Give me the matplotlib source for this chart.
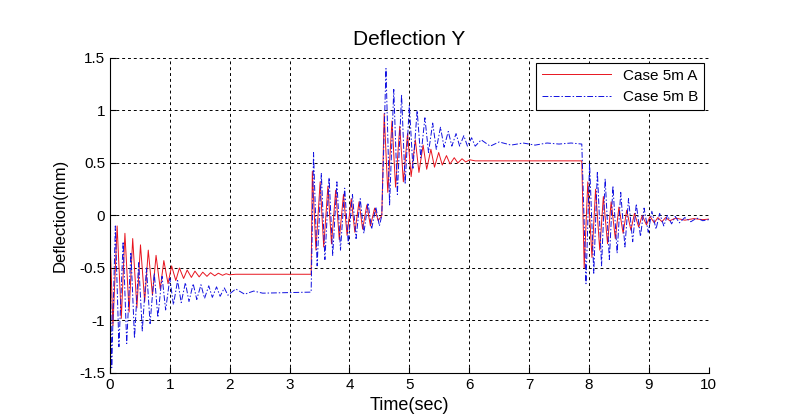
import numpy as np
import matplotlib
matplotlib.use('Agg')
import matplotlib.pyplot as plt

plt.rcParams['font.family'] = ['Liberation Sans', 'DejaVu Sans']

# Extremos (tiempo en s, deflexion en mm)
t_a = [0.0, 0.05, 0.12, 0.19, 0.25, 0.32, 0.38, 0.45, 0.51, 0.58, 0.64, 0.71, 0.77, 0.84, 0.9, 0.97,
       1.03, 1.1, 1.16, 1.23, 1.29, 1.36, 1.42, 1.49, 1.55, 1.62, 1.68, 1.75, 1.81, 1.88, 1.94, 2.0,
       2.1, 3.36,
       3.38, 3.44, 3.51, 3.57, 3.64, 3.7, 3.77, 3.83, 3.9, 3.96, 4.03, 4.09, 4.16, 4.22, 4.29, 4.35,
       4.42, 4.48, 4.54,
       4.58, 4.64, 4.71, 4.77, 4.84, 4.9, 4.97, 5.03, 5.1, 5.16, 5.23, 5.29, 5.36, 5.42, 5.49, 5.55,
       5.62, 5.68, 5.75, 5.81, 5.88, 5.94, 6.01, 6.1, 7.88,
       7.92, 7.98, 8.05, 8.11, 8.18, 8.24, 8.31, 8.37, 8.44, 8.5, 8.57, 8.63, 8.7, 8.76, 8.83, 8.89,
       8.96, 9.02, 9.09, 9.15, 9.22, 9.28, 9.35, 9.45, 9.6, 9.75, 9.9, 10.0]
y_a = [-0.2, -1.05, -0.1, -0.98, -0.17, -0.92, -0.22, -0.88, -0.28, -0.82, -0.33, -0.76, -0.38, -0.7,
       -0.43, -0.65, -0.48, -0.62, -0.5, -0.6, -0.52, -0.59, -0.53, -0.585, -0.54, -0.58, -0.545,
       -0.575, -0.55, -0.57, -0.555, -0.565, -0.56, -0.56,
       0.42, -0.33, 0.32, -0.3, 0.28, -0.27, 0.24, -0.23, 0.2, -0.19, 0.16, -0.16, 0.13, -0.13, 0.1,
       -0.1, 0.07, -0.05, 0.0,
       0.97, 0.22, 0.9, 0.27, 0.85, 0.32, 0.78, 0.37, 0.72, 0.41, 0.67, 0.44, 0.63, 0.46, 0.6, 0.48,
       0.57, 0.49, 0.55, 0.5, 0.54, 0.51, 0.53, 0.52, 0.52,
       -0.5, 0.32, -0.4, 0.25, -0.33, 0.18, -0.27, 0.13, -0.22, 0.08, -0.17, 0.05, -0.14, 0.02, -0.11,
       0.0, -0.09, -0.01, -0.07, -0.02, -0.06, -0.02, -0.05, -0.025, -0.045, -0.03, -0.04, -0.035]

t_b = [0.0, 0.03, 0.09, 0.15, 0.22, 0.28, 0.35, 0.41, 0.48, 0.54, 0.61, 0.67, 0.74, 0.8, 0.87, 0.93,
       1.0, 1.06, 1.13, 1.19, 1.26, 1.32, 1.39, 1.45, 1.52, 1.58, 1.65, 1.71, 1.78, 1.84, 1.91, 1.97,
       2.1, 2.25, 2.4, 2.55, 3.36,
       3.4, 3.46, 3.53, 3.59, 3.66, 3.72, 3.79, 3.85, 3.92, 3.98, 4.05, 4.11, 4.18, 4.24, 4.31, 4.37,
       4.44, 4.5, 4.54,
       4.61, 4.67, 4.74, 4.8, 4.87, 4.93, 5.0, 5.06, 5.13, 5.19, 5.26, 5.32, 5.39, 5.45, 5.52, 5.58,
       5.65, 5.71, 5.78, 5.84, 5.91, 5.97, 6.04, 6.1, 6.2, 6.35, 6.5, 6.7, 6.9, 7.1, 7.3, 7.5, 7.7,
       7.88,
       7.95, 8.01, 8.08, 8.14, 8.21, 8.27, 8.34, 8.4, 8.47, 8.53, 8.6, 8.66, 8.73, 8.79, 8.86, 8.92,
       8.99, 9.05, 9.12, 9.18, 9.25, 9.31, 9.38, 9.44, 9.51, 9.6, 9.7, 9.8, 9.9, 10.0]
y_b = [-0.2, -1.45, -0.1, -1.25, -0.25, -1.22, -0.35, -1.17, -0.45, -1.1, -0.5, -1.03, -0.55, -0.97,
       -0.58, -0.9, -0.6, -0.85, -0.62, -0.83, -0.64, -0.82, -0.65, -0.8, -0.66, -0.79, -0.67, -0.78,
       -0.68, -0.77, -0.69, -0.76, -0.7, -0.75, -0.72, -0.74, -0.73,
       0.6, -0.48, 0.4, -0.42, 0.36, -0.38, 0.32, -0.33, 0.26, -0.27, 0.2, -0.22, 0.16, -0.17, 0.12,
       -0.13, 0.08, -0.1, 0.0,
       1.4, 0.1, 1.2, 0.2, 1.15, 0.3, 1.05, 0.45, 1.0, 0.55, 0.93, 0.6, 0.88, 0.63, 0.84, 0.65, 0.8,
       0.66, 0.78, 0.66, 0.76, 0.66, 0.74, 0.66, 0.72, 0.66, 0.7, 0.67, 0.69, 0.67, 0.69, 0.68, 0.69,
       0.68,
       -0.65, 0.5, -0.55, 0.42, -0.48, 0.35, -0.42, 0.28, -0.36, 0.22, -0.3, 0.16, -0.25, 0.11, -0.2,
       0.07, -0.16, 0.04, -0.13, 0.02, -0.1, 0.0, -0.08, -0.01, -0.07, -0.02, -0.06, -0.025, -0.05,
       -0.04]

x_ticks = [0, 1, 2, 3, 4, 5, 6, 7, 8, 9, 10]
y_ticks = [-1.5, -1, -0.5, 0, 0.5, 1, 1.5]
y_labels = ['-1.5', '-1', '-0.5', '0', '0.5', '1', '1.5']

fig = plt.figure(figsize=(7.91, 4.2), dpi=100)
ax = fig.add_axes([0.139, 0.112, 0.757, 0.75])

ax.plot(t_a, y_a, color='#e8141e', linewidth=0.7, label='Case 5m A')
ax.plot(t_b, y_b, color='#1010e0', linestyle=(0, (6, 2, 1.5, 2)), linewidth=0.7, label='Case 5m B')

ax.set_xlim(0, 10)
ax.set_ylim(-1.5, 1.5)
ax.set_xticks(x_ticks)
ax.set_yticks(y_ticks)
ax.set_yticklabels(y_labels)
ax.tick_params(direction='in', labelsize=11, length=4)
ax.grid(True, color='black', linestyle=(0, (3, 3)), linewidth=0.7)
ax.spines['top'].set_visible(False)
ax.spines['right'].set_visible(False)

ax.set_title('Deflection Y', fontsize=15, pad=9)
ax.set_xlabel('Time(sec)', fontsize=13, labelpad=4)
ax.set_ylabel('Deflection(mm)', fontsize=12, labelpad=8)

leg = ax.legend(loc='upper right', fontsize=11, fancybox=False, framealpha=1,
                edgecolor='black', borderaxespad=0.3, handlelength=4.5)
leg.get_frame().set_linewidth(0.8)

fig.savefig('out.png', dpi=100)
